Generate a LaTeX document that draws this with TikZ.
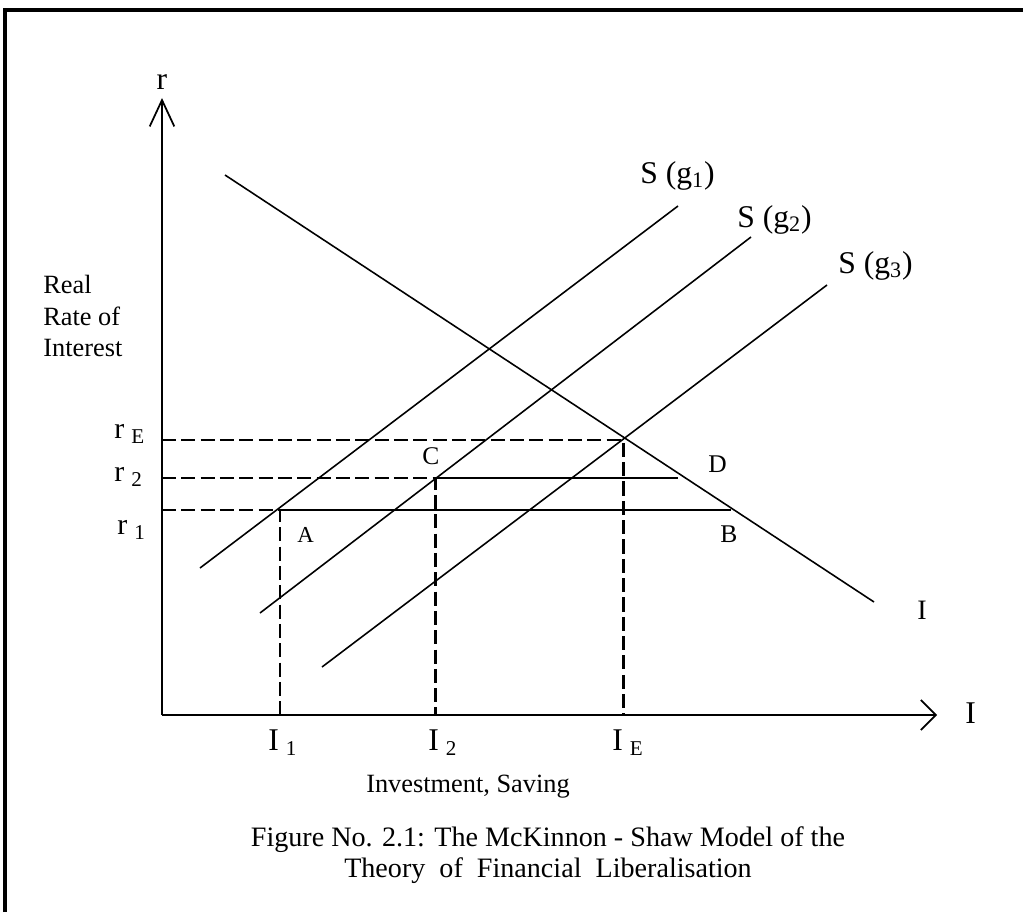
\documentclass[tikz,border=0pt]{standalone}
\usepackage{fontspec}
\setmainfont{Liberation Serif}
\usetikzlibrary{arrows.meta}

\newcommand{\fs}[1]{\fontsize{#1}{#1}\selectfont}
\newcommand{\lbl}[3]{#1\hspace{#3}\raisebox{-3pt}{\fs{12}#2}}

\begin{document}
\begin{tikzpicture}[
    x=0.02cm, y=-0.02cm,
    axis/.style={line width=1pt},
    curve/.style={line width=0.9pt},
    guide/.style={line width=1.7pt, dash pattern=on 8pt off 3pt},
    level/.style={line width=0.8pt},
    every node/.style={inner sep=0pt}
]
\useasboundingbox (0,0) rectangle (1023,912);

% frame
\draw[line width=2pt, line join=miter] (5,912) -- (5,10) -- (1023,10);

% axes
\coordinate (O) at (162,715);
\coordinate (ytip) at (162,98);
\coordinate (xtip) at (937,715);
\draw[axis, -{Straight Barb[length=15pt,width=14pt]}] (O) -- (ytip);
\draw[axis, -{Straight Barb[length=8.5pt,width=17pt]}] (O) -- (xtip);
\node[font=\fs{18}] (rax) at (162,82) {r};
\node[font=\fs{18}, anchor=base west] (iax) at (965,723) {I};

% points
\coordinate (A) at (280,510);
\coordinate (B) at (731,510);
\coordinate (C) at (435,478);
\coordinate (D) at (678,478);
\coordinate (E) at (623,440);

% investment curve
\coordinate (inv1) at (225,175);
\coordinate (inv2) at (874,602);
\draw[curve] (inv1) -- (inv2);
\node[font=\fs{16}, anchor=base west] (ilab) at (917,619) {I};

% saving curves
\foreach \ax/\ay/\bx/\by/\n/\lx/\ly in {200/568/678/206/1/640/183,
                                        260/613/751/237/2/737/227,
                                        322/667/827/285/3/838/273}{
  \coordinate (sav\n a) at (\ax,\ay);
  \coordinate (sav\n b) at (\bx,\by);
  \draw[curve] (sav\n a) -- (sav\n b);
  \node[font=\fs{18}, anchor=base west] (slab\n) at (\lx,\ly) {S (g\textsubscript{\n})};
}

% dashed guides
\draw[guide] (O |- E) -- (E) -- (E |- O);
\draw[guide] (O |- C) -- (C) -- (C |- O);
\draw[guide] (O |- A) -- (A) -- (A |- O);

% rate levels
\draw[level] (A) -- (B);
\draw[level] (C) -- (D);

% point labels
\node[font=\fs{13}, anchor=base west] (alab) at (297,542) {A};
\node[font=\fs{14.5}, anchor=base west] (blab) at (720,542) {B};
\node[font=\fs{14.5}, anchor=base west] (clab) at (422,464) {C};
\node[font=\fs{14.5}, anchor=base west] (dlab) at (708,472) {D};

% axis values
\node[font=\fs{17}, anchor=base west] (rE) at (114,438) {\lbl{r}{E}{4pt}};
\node[font=\fs{17}, anchor=base west] (r2) at (114,481) {\lbl{r}{2}{4pt}};
\node[font=\fs{17}, anchor=base west] (r1) at (117,534) {\lbl{r}{1}{4pt}};
\node[font=\fs{18}, anchor=base west] (i1) at (268,750) {\lbl{I}{1}{4pt}};
\node[font=\fs{18}, anchor=base west] (i2) at (428,750) {\lbl{I}{2}{4pt}};
\node[font=\fs{18}, anchor=base west] (iE) at (612,750) {\lbl{I}{E}{4pt}};

% axis titles
\node[font=\fontsize{15}{18}\selectfont, align=left, anchor=north west] (ytitle) at (43,275) {Real\\Rate of\\Interest};
\node[font=\fs{15}, anchor=base] (xtitle) at (468,792) {Investment, Saving};

% caption
\node[font=\fontsize{16}{18}\selectfont, align=center, anchor=north] (caption) at (548,826)
  {Figure No. 2.1: The McKinnon - Shaw Model of the\\Theory\ \ of\ \ Financial\ \ Liberalisation};

\end{tikzpicture}
\end{document}
